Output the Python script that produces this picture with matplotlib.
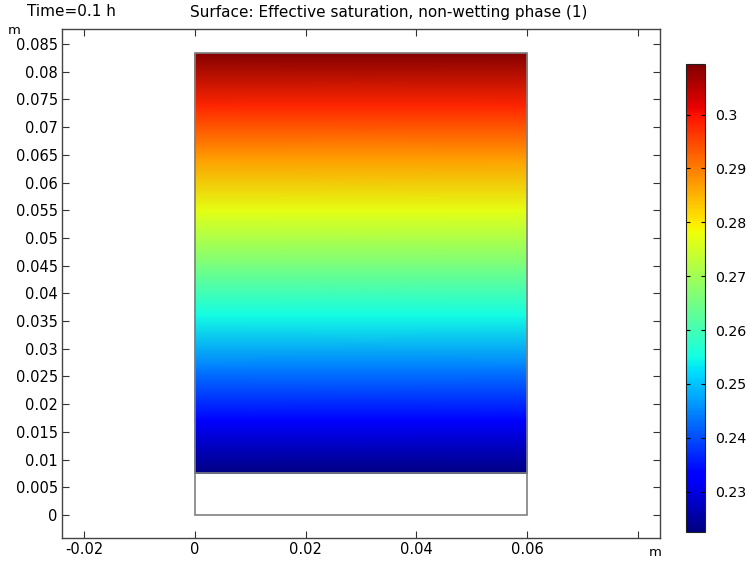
import numpy as np
import matplotlib
matplotlib.use("Agg")
from matplotlib import pyplot as plt
from matplotlib.patches import Rectangle

# domain geometry (m)
domain_width = 0.06
domain_height = 0.0833
wet_top = 0.0075  # bottom of the coloured zone

y_levels = [0.0075, 0.0170, 0.0265, 0.0360, 0.0454, 0.0549, 0.0644, 0.0738, 0.0833]
saturation = [0.2225, 0.233, 0.244, 0.255, 0.266, 0.277, 0.287, 0.298, 0.309]

x_ticks = [-0.02, 0, 0.02, 0.04, 0.06, 0.08]
x_labels = ['-0.02', '0', '0.02', '0.04', '0.06', '']
y_ticks = np.round(np.arange(0, 0.0851, 0.005), 3)
cbar_ticks = [0.23, 0.24, 0.25, 0.26, 0.27, 0.28, 0.29, 0.3]

plt.rcParams['font.family'] = ['DejaVu Sans']
plt.rcParams['font.size'] = 10.5

fig = plt.figure(figsize=(7.48, 5.62), dpi=100)
ax = fig.add_axes([62 / 748, 24 / 562, 598 / 748, 509 / 562])

xs = np.array([0, domain_width])
ys = np.array(y_levels)
Z = np.tile(np.array(saturation)[:, None], (1, 2))
mesh = ax.pcolormesh(xs, ys, Z, shading='gouraud', cmap='jet',
                     vmin=0.2225, vmax=0.3094)

ax.add_patch(Rectangle((0, 0), domain_width, domain_height, fill=False,
                       edgecolor='#808080', lw=1.2, zorder=3))
ax.plot([0, domain_width], [wet_top, wet_top], color='#808080', lw=1.2, zorder=3)

ax.set_xlim(-0.024, 0.084)
ax.set_ylim(-0.00415, 0.0877)
ax.set_xticks(x_ticks)
ax.set_xticklabels(x_labels)
ax.set_yticks(y_ticks)
ax.set_yticklabels(['0' if v == 0 else ('%g' % v) for v in y_ticks])
ax.tick_params(direction='in', top=True, right=True, length=5, width=0.8,
               colors='#333333', labelcolor='black', labelsize=10.5, pad=3)
for s in ax.spines.values():
    s.set_color('#444444')
    s.set_linewidth(1.0)

fig.text(655 / 748, 1 - 552 / 562, 'm', ha='center', va='center', fontsize=9.5)
fig.text(14 / 748, 1 - 30 / 562, 'm', ha='center', va='center', fontsize=9.5)
fig.text(27 / 748, 1 - 12 / 562, 'Time=0.1 h', ha='left', va='center', fontsize=11)
fig.text(389 / 748, 1 - 12 / 562, 'Surface: Effective saturation, non-wetting phase (1)',
         ha='center', va='center', fontsize=11)

cax = fig.add_axes([686 / 748, 30 / 562, 19 / 748, 468 / 562])
cb = fig.colorbar(mesh, cax=cax, ticks=cbar_ticks)
cb.ax.set_yticklabels(['%g' % t for t in cbar_ticks])
cb.ax.tick_params(direction='in', length=3, width=0.8, left=True, right=True,
                  labelsize=10.2, pad=7)
cb.outline.set_edgecolor('#222222')
cb.outline.set_linewidth(0.8)

plt.savefig('out.png', dpi=100)
